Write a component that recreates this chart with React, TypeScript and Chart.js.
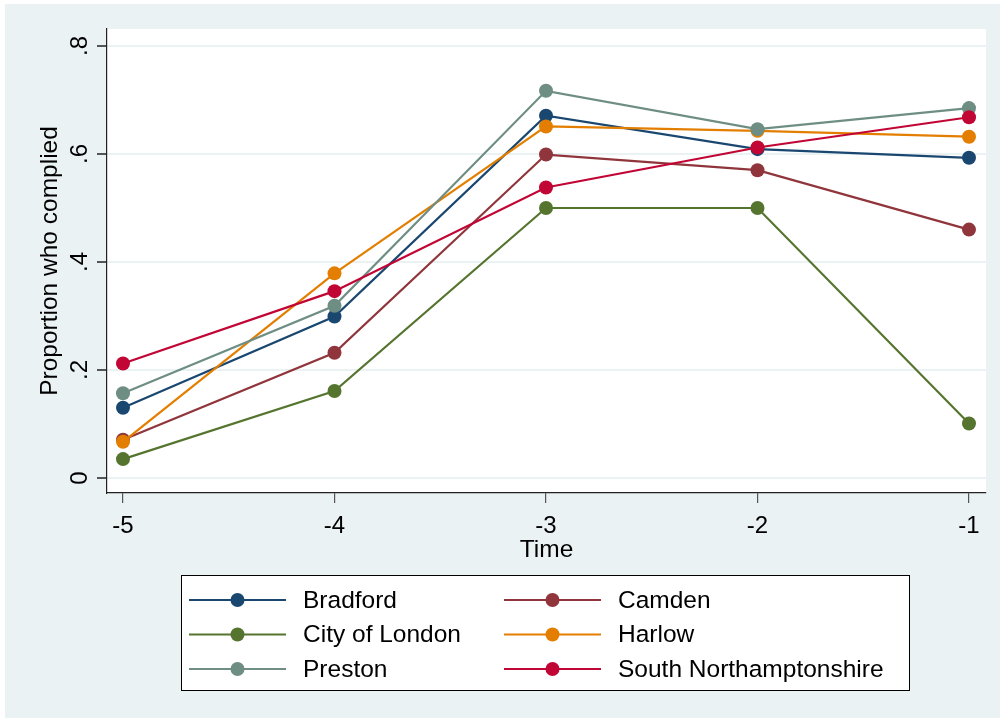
import React, { useEffect, useRef } from "react";
import { Chart, registerables } from "chart.js";

Chart.register(...registerables);

const timePoints = [-5, -4, -3, -2, -1];
const xTickValues = [-5, -4, -3, -2, -1];
const xTickLabels = ["-5", "-4", "-3", "-2", "-1"];
const yTickValues = [0, 0.2, 0.4, 0.6, 0.8];
const yTickLabels = ["0", ".2", ".4", ".6", ".8"];

const seriesNames = ["Bradford", "Camden", "City of London", "Harlow", "Preston", "South Northamptonshire"];
const seriesColors = ["#1a476f", "#90353b", "#55752f", "#e37e00", "#6e8e84", "#c10534"];

const bradford = [0.130, 0.299, 0.671, 0.609, 0.593];
const camden = [0.071, 0.232, 0.599, 0.570, 0.460];
const cityOfLondon = [0.035, 0.161, 0.500, 0.500, 0.101];
const harlow = [0.067, 0.379, 0.651, 0.643, 0.632];
const preston = [0.157, 0.319, 0.717, 0.646, 0.685];
const southNorthants = [0.212, 0.346, 0.538, 0.612, 0.668];

const seriesValues = [bradford, camden, cityOfLondon, harlow, preston, southNorthants];

const xTitle = "Time";
const yTitle = "Proportion who complied";

const FONT = "'Liberation Sans', Arial, sans-serif";
const BG = "#eaf2f3";

const W = 1000;
const H = 722;
const AREA = { left: 107, top: 29, right: 986, bottom: 493 };

const bgPlugin = {
  id: "stataBg",
  beforeDraw(chart: any) {
    const ctx = chart.ctx;
    ctx.save();
    ctx.fillStyle = "#ffffff";
    ctx.fillRect(0, 0, W, H);
    ctx.fillStyle = BG;
    ctx.fillRect(5, 4, W - 5, H - 8);
    const a = chart.chartArea;
    ctx.fillStyle = "#ffffff";
    ctx.fillRect(a.left, a.top, a.right - a.left, a.bottom - a.top);
    ctx.restore();
  },
  afterDraw(chart: any) {
    const ctx = chart.ctx;
    const ys = chart.scales.y;
    const xs = chart.scales.x;
    ctx.save();
    ctx.fillStyle = "#000";
    // y tick labels (rotated)
    ctx.font = `24px ${FONT}`;
    yTickValues.forEach((v, i) => {
      const py = ys.getPixelForValue(v);
      ctx.save();
      ctx.translate(80, py);
      ctx.rotate(-Math.PI / 2);
      ctx.textAlign = "center";
      ctx.textBaseline = "middle";
      ctx.fillText(yTickLabels[i], 0, 0);
      ctx.restore();
    });
    // x tick labels
    ctx.textAlign = "center";
    ctx.textBaseline = "alphabetic";
    xTickValues.forEach((v, i) => {
      const px = xs.getPixelForValue(v);
      ctx.fillText(xTickLabels[i], px, 533);
    });
    // titles
    ctx.font = `24.5px ${FONT}`;
    ctx.fillText(xTitle, (chart.chartArea.left + chart.chartArea.right) / 2, 557);
    ctx.save();
    ctx.translate(57, (chart.chartArea.top + chart.chartArea.bottom) / 2);
    ctx.rotate(-Math.PI / 2);
    ctx.textAlign = "center";
    ctx.textBaseline = "alphabetic";
    ctx.fillText(yTitle, 0, 0);
    ctx.restore();

    // legend
    const box = { left: 181.5, top: 575.5, right: 909.5, bottom: 690.5 };
    ctx.fillStyle = "#ffffff";
    ctx.fillRect(box.left, box.top, box.right - box.left, box.bottom - box.top);
    ctx.strokeStyle = "#000";
    ctx.lineWidth = 1;
    ctx.strokeRect(box.left, box.top, box.right - box.left, box.bottom - box.top);
    const colX = [189, 504];
    const rowY = [600, 634.5, 669];
    ctx.font = `24.5px ${FONT}`;
    ctx.textAlign = "left";
    ctx.textBaseline = "middle";
    seriesNames.forEach((name, i) => {
      const cx = colX[i % 2];
      const cy = rowY[Math.floor(i / 2)];
      ctx.strokeStyle = seriesColors[i];
      ctx.lineWidth = 2.2;
      ctx.beginPath();
      ctx.moveTo(cx, cy);
      ctx.lineTo(cx + 97, cy);
      ctx.stroke();
      ctx.fillStyle = seriesColors[i];
      ctx.beginPath();
      ctx.arc(cx + 48.5, cy, 7, 0, Math.PI * 2);
      ctx.fill();
      ctx.fillStyle = "#000";
      ctx.fillText(name, cx + 114, cy + 1);
    });
    ctx.restore();
  },
};

export default function App() {
  const ref = useRef<HTMLCanvasElement | null>(null);

  useEffect(() => {
    if (!ref.current) return;
    const datasets = seriesNames.map((name, i) => ({
      label: name,
      data: timePoints.map((t, j) => ({ x: t, y: seriesValues[i][j] })),
      borderColor: seriesColors[i],
      backgroundColor: seriesColors[i],
      pointBackgroundColor: seriesColors[i],
      pointBorderColor: seriesColors[i],
      pointBorderWidth: 0,
      pointRadius: 7,
      borderWidth: 2.2,
      tension: 0,
      order: seriesNames.length - i,
    }));

    const yPerPx = 0.8 / (478 - 46);
    const xPerPx = 4 / (969 - 123);

    const chart = new Chart(ref.current, {
      type: "line",
      data: { datasets },
      plugins: [bgPlugin],
      options: {
        animation: false,
        responsive: false,
        devicePixelRatio: 1,
        events: [],
        layout: { padding: { left: 0, top: AREA.top, right: W - AREA.right, bottom: 0 } },
        plugins: { legend: { display: false }, tooltip: { enabled: false } },
        scales: {
          x: {
            type: "linear",
            min: -5 - (123 - AREA.left) * xPerPx,
            max: -1 + (AREA.right - 969) * xPerPx,
            afterBuildTicks: (s: any) => {
              s.ticks = xTickValues.map((v) => ({ value: v }));
            },
            afterFit: (s: any) => {
              s.height = H - AREA.bottom;
            },
            ticks: { display: false },
            grid: { drawOnChartArea: false, drawTicks: true, tickLength: 10, tickColor: "#555", lineWidth: 1.2 },
            border: { display: true, color: "#222", width: 1.2 },
          },
          y: {
            type: "linear",
            min: -(AREA.bottom - 478) * yPerPx,
            max: 0.8 + (46 - AREA.top) * yPerPx,
            afterBuildTicks: (s: any) => {
              s.ticks = yTickValues.map((v) => ({ value: v }));
            },
            afterFit: (s: any) => {
              s.width = AREA.left;
            },
            ticks: { display: false },
            grid: { drawOnChartArea: true, drawTicks: true, tickLength: 10, color: BG, tickColor: "#555", lineWidth: 2 },
            border: { display: true, color: "#222", width: 1.2 },
          },
        },
      },
    } as any);
    return () => chart.destroy();
  }, []);

  return (
    <div style={{ position: "absolute", left: 0, top: 0, width: W, height: H }}>
      <canvas ref={ref} width={W} height={H} style={{ display: "block" }} />
    </div>
  );
}
